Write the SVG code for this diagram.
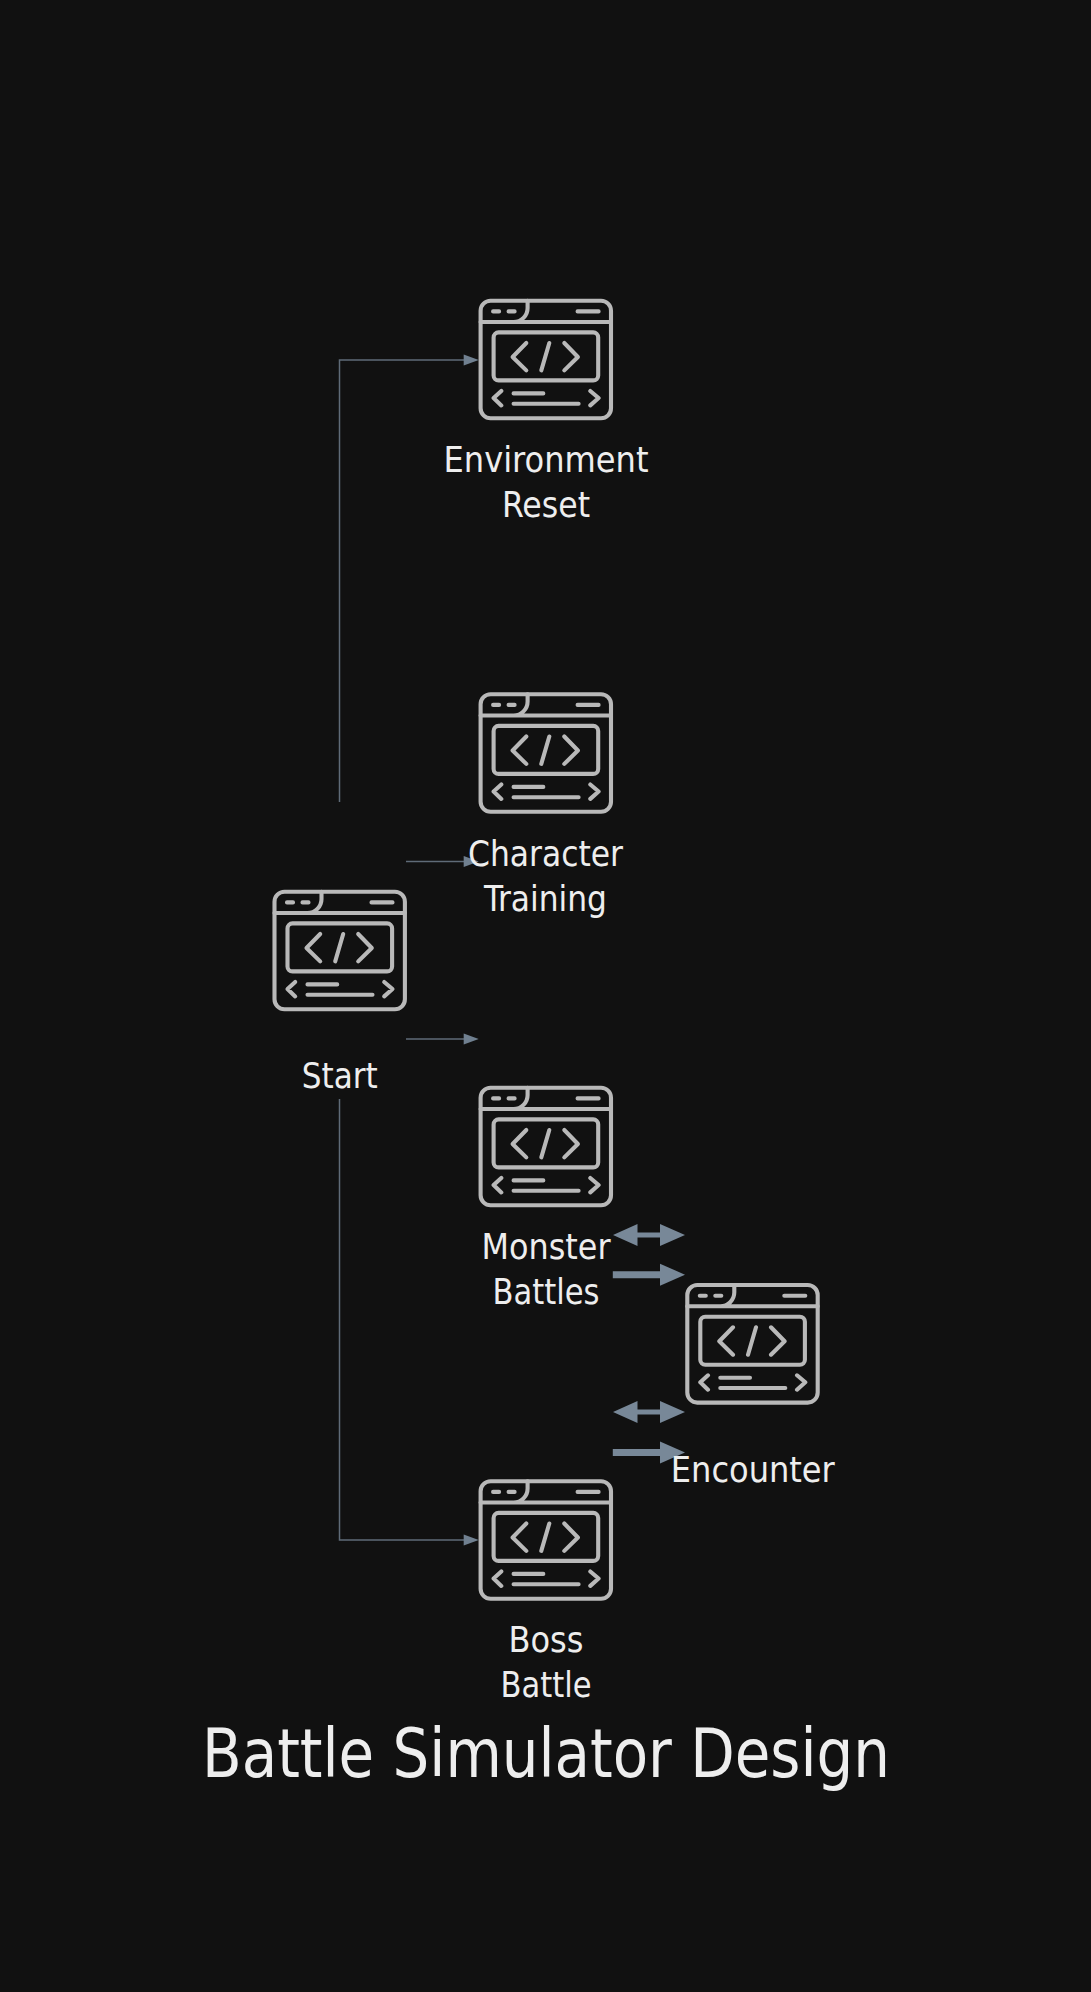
<svg xmlns="http://www.w3.org/2000/svg" width="1091" height="1992" viewBox="0 0 1091 1992">
<style>
.bg{fill:#111111}
.ic{fill:none;stroke:#b9b9b9;stroke-width:4.1;stroke-linecap:round;stroke-linejoin:round}
.lb{font-family:"DejaVu Sans",sans-serif;font-stretch:condensed;font-size:35px;fill:#eeeeee;text-anchor:middle}
.tt{font-family:"DejaVu Sans",sans-serif;font-stretch:condensed;font-size:67px;fill:#eeeeee;text-anchor:middle}
.thin{fill:none;stroke:#5f6b78;stroke-width:1.5}
.head{fill:#708090}
.sh{stroke:#788898;fill:none}
.hd{fill:#788898}
</style>
<defs>
<g id="icon" class="ic">
<rect x="2" y="2" width="130.400" height="117.600" rx="10"/>
<path d="M2 23.300H132.400M49 2V9.300A14 14 0 0 1 35 23.300"/>
<path d="M14.500 12.700H20.500M30 12.700H36M99 12.700H120"/>
<rect x="15" y="33.700" width="104.600" height="48" rx="5"/>
<path d="M47.700 44.300L34 58.300L47.700 71.700M85.700 44.300L99.300 58.300L85.700 71.700M70.700 44.300L62.700 71.700"/>
<path d="M22.700 92.300L15 99.300L22.700 106.700M111.700 92.300L120 99.300L111.700 106.700M35 94.700H64.700M35 105H100"/>
</g>
</defs>
<rect class="bg" width="1091" height="1992"/>
<g id="connectors">
<path class="thin" d="M339.500 802V360H465"/><path class="head" d="M478.700 360L463.700 354.500V365.500Z"/>
<path class="thin" d="M406 861.500H465"/><path class="head" d="M478.700 861.500L463.700 856V867Z"/>
<path class="thin" d="M406 1039H465"/><path class="head" d="M478.700 1039L463.700 1033.500V1044.500Z"/>
<path class="thin" d="M339.500 1099V1540H465"/><path class="head" d="M478.700 1540L463.700 1534.500V1545.500Z"/>
<path class="sh" stroke-width="5" d="M636 1235H662"/><path class="hd" d="M613 1235L637.500 1224V1246ZM685 1235L660 1224V1246Z"/>
<path class="sh" stroke-width="7" d="M612.800 1274.700H662"/><path class="hd" d="M685 1274.700L660 1263.700V1285.700Z"/>
<path class="sh" stroke-width="5" d="M636 1412H662"/><path class="hd" d="M613 1412L637.500 1401V1423ZM685 1412L660 1401V1423Z"/>
<path class="sh" stroke-width="7" d="M612.800 1452.500H662"/><path class="hd" d="M685 1452.500L660 1441.500V1463.500Z"/>
</g>
<g id="node-start"><use href="#icon" x="272.500" y="889.700"/><text class="lb" x="339.800" y="1088" textLength="76" lengthAdjust="spacingAndGlyphs">Start</text></g>
<g id="node-environment"><use href="#icon" x="478.600" y="298.700"/><text class="lb" x="546" y="471.500" textLength="205" lengthAdjust="spacingAndGlyphs">Environment</text><text class="lb" x="546" y="516.500" textLength="88" lengthAdjust="spacingAndGlyphs">Reset</text></g>
<g id="node-character"><use href="#icon" x="478.600" y="692.200"/><text class="lb" x="545.500" y="865.500" textLength="155" lengthAdjust="spacingAndGlyphs">Character</text><text class="lb" x="545.500" y="910.500" textLength="123" lengthAdjust="spacingAndGlyphs">Training</text></g>
<g id="node-monster"><use href="#icon" x="478.600" y="1085.700"/><text class="lb" x="546" y="1258.500" textLength="129" lengthAdjust="spacingAndGlyphs">Monster</text><text class="lb" x="546" y="1303.500" textLength="107" lengthAdjust="spacingAndGlyphs">Battles</text></g>
<g id="node-encounter"><use href="#icon" x="685.300" y="1283"/><text class="lb" x="752.800" y="1481.500" textLength="164" lengthAdjust="spacingAndGlyphs">Encounter</text></g>
<g id="node-boss"><use href="#icon" x="478.600" y="1479.200"/><text class="lb" x="546" y="1651.500" textLength="75" lengthAdjust="spacingAndGlyphs">Boss</text><text class="lb" x="546" y="1696.500" textLength="91" lengthAdjust="spacingAndGlyphs">Battle</text></g>
<g id="title"><text class="tt" x="546" y="1776.500" textLength="688" lengthAdjust="spacingAndGlyphs">Battle Simulator Design</text></g>
</svg>
